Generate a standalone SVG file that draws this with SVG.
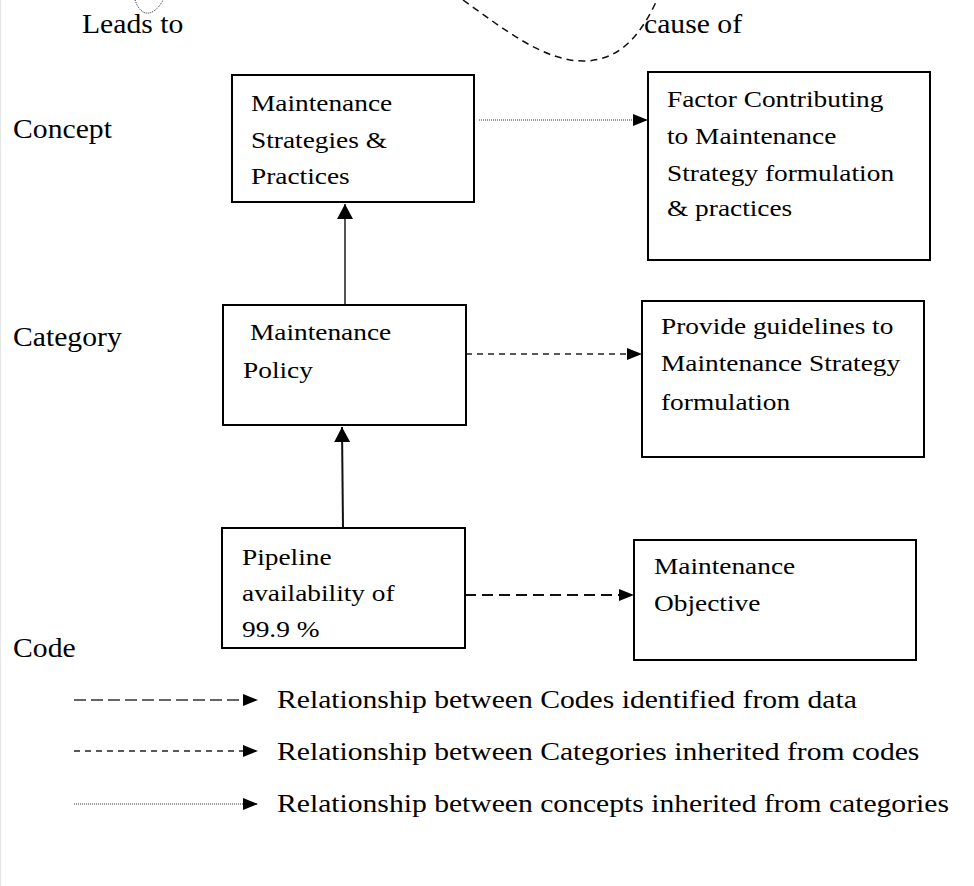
<svg xmlns="http://www.w3.org/2000/svg" width="974" height="886" viewBox="0 0 974 886">
  <style>
    text { font-family: "Liberation Serif", "Times New Roman", serif; fill: #000; }
    .lbl { font-size: 28px; }
    .box-text { font-size: 24px; }
    .leg { font-size: 26px; }
    .box { fill: #fff; stroke: #000; stroke-width: 2; }
    .solid-thin { stroke: #555; stroke-width: 2; fill: none; }
    .solid { stroke: #111; stroke-width: 2; fill: none; }
    .dash-long { stroke: #111; stroke-width: 2; stroke-dasharray: 11 6; fill: none; }
    .dash-short { stroke: #222; stroke-width: 1.5; stroke-dasharray: 6 5; fill: none; }
    .dotted { stroke: #333; stroke-width: 1; stroke-dasharray: 1 1; fill: none; }
    .legend-long { stroke: #333; stroke-width: 1.5; stroke-dasharray: 12 5; fill: none; }
  </style>
  <defs>
    <marker id="arrowH" viewBox="0 0 15 12" refX="15" refY="6" markerWidth="15" markerHeight="12" markerUnits="userSpaceOnUse" orient="auto">
      <path d="M0,0 L15,6 L0,12 Z" fill="#000"/>
    </marker>
    <marker id="arrowV" viewBox="0 0 15 16" refX="15" refY="8" markerWidth="15" markerHeight="16" markerUnits="userSpaceOnUse" orient="auto">
      <path d="M0,0 L15,8 L0,16 Z" fill="#000"/>
    </marker>
  </defs>

  <!-- page edge -->
  <line x1="0.5" y1="0" x2="0.5" y2="886" stroke="#e6e6e6" stroke-width="1"/>

  <!-- partial loops of the cycle at the top -->
  <g id="top-curves">
    <path class="dotted" d="M135,0 C138,9 143,14 149,13 C155,12 160,6 163,0"/>
    <path d="M463,0 C505,30 545,62 585,61 C622,60 642,32 657,0" fill="none" stroke="#111" stroke-width="1.5" stroke-dasharray="7 5"/>
  </g>

  <!-- level labels -->
  <g id="labels">
    <text class="lbl" transform="translate(82 33) scale(1.06 1)">Leads to</text>
    <text class="lbl" transform="translate(644 33) scale(1.06 1)">cause of</text>
    <text class="lbl" transform="translate(13 138) scale(1.06 1)">Concept</text>
    <text class="lbl" transform="translate(13 346) scale(1.06 1)">Category</text>
    <text class="lbl" transform="translate(13 657) scale(1.06 1)">Code</text>
  </g>

  <!-- connectors -->
  <g id="connectors">
    <line class="dotted" x1="479" y1="120" x2="648" y2="120" marker-end="url(#arrowH)"/>
    <line class="dash-short" x1="466" y1="354" x2="642" y2="354" marker-end="url(#arrowH)"/>
    <line class="dash-long" x1="465" y1="595" x2="634" y2="595" marker-end="url(#arrowH)"/>
    <line class="solid-thin" x1="345" y1="304" x2="345" y2="204" marker-end="url(#arrowV)"/>
    <line class="solid" x1="343" y1="528" x2="342" y2="427" marker-end="url(#arrowV)"/>
  </g>

  <!-- concept level -->
  <g id="node-strategies">
    <rect class="box" x="232" y="75" width="242" height="127"/>
    <text class="box-text" transform="translate(251 111) scale(1.14 1)"><tspan x="0" y="0">Maintenance</tspan><tspan x="0" y="37">Strategies &amp;</tspan><tspan x="0" y="73">Practices</tspan></text>
  </g>
  <g id="node-factor">
    <rect class="box" x="648" y="72" width="282" height="188"/>
    <text class="box-text" transform="translate(667 107) scale(1.14 1)"><tspan x="0" y="0">Factor Contributing</tspan><tspan x="0" y="37">to Maintenance</tspan><tspan x="0" y="74">Strategy formulation</tspan><tspan x="0" y="109">&amp; practices</tspan></text>
  </g>

  <!-- category level -->
  <g id="node-policy">
    <rect class="box" x="223" y="305" width="243" height="120"/>
    <text class="box-text" transform="translate(250 340) scale(1.14 1)">Maintenance</text>
    <text class="box-text" transform="translate(243 378) scale(1.14 1)">Policy</text>
  </g>
  <g id="node-guidelines">
    <rect class="box" x="642" y="301" width="282" height="156"/>
    <text class="box-text" transform="translate(661 334) scale(1.14 1)"><tspan x="0" y="0">Provide guidelines to</tspan><tspan x="0" y="37">Maintenance Strategy</tspan><tspan x="0" y="76">formulation</tspan></text>
  </g>

  <!-- code level -->
  <g id="node-pipeline">
    <rect class="box" x="222" y="528" width="243" height="120"/>
    <text class="box-text" transform="translate(242 565) scale(1.14 1)"><tspan x="0" y="0">Pipeline</tspan><tspan x="0" y="36">availability of</tspan><tspan x="0" y="72">99.9 %</tspan></text>
  </g>
  <g id="node-objective">
    <rect class="box" x="634" y="540" width="282" height="120"/>
    <text class="box-text" transform="translate(654 574) scale(1.14 1)"><tspan x="0" y="0">Maintenance</tspan><tspan x="0" y="37">Objective</tspan></text>
  </g>

  <!-- legend -->
  <g id="legend">
    <line class="legend-long" x1="74" y1="700" x2="258" y2="700" marker-end="url(#arrowH)"/>
    <line class="dash-short" x1="74" y1="751" x2="258" y2="751" marker-end="url(#arrowH)"/>
    <line class="dotted" x1="74" y1="804" x2="258" y2="804" marker-end="url(#arrowH)"/>
    <text class="leg" transform="translate(277 708) scale(1.14 1)">Relationship between Codes identified from data</text>
    <text class="leg" transform="translate(277 760) scale(1.14 1)">Relationship between Categories inherited from codes</text>
    <text class="leg" transform="translate(277 812) scale(1.14 1)">Relationship between concepts inherited from categories</text>
  </g>
</svg>
